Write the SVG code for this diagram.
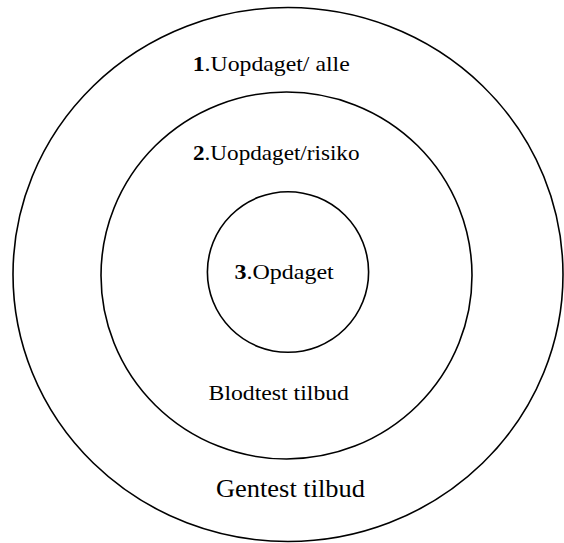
<svg xmlns="http://www.w3.org/2000/svg" width="564" height="543" viewBox="0 0 564 543">
<style>
.ring{fill:none;stroke:#000;stroke-width:1.6}
.lbl{font-family:"Liberation Serif","Times New Roman",serif;font-size:21px;fill:#000}
.big{font-size:24.5px}
.num{font-weight:bold}
</style>
<rect width="564" height="543" fill="#fff"/>
<g id="outer">
<ellipse class="ring" cx="288" cy="274.5" rx="275" ry="267"/>
<text class="lbl" x="192.7" y="70.7" textLength="157" lengthAdjust="spacingAndGlyphs"><tspan class="num">1</tspan>.Uopdaget/ alle</text>
<text class="lbl big" x="216" y="496.7" textLength="149" lengthAdjust="spacingAndGlyphs">Gentest tilbud</text>
</g>
<g id="middle">
<ellipse class="ring" cx="286.5" cy="275.5" rx="185.5" ry="183.5"/>
<text class="lbl" x="193" y="160" textLength="166.5" lengthAdjust="spacingAndGlyphs"><tspan class="num">2</tspan>.Uopdaget/risiko</text>
<text class="lbl" x="208.6" y="400" textLength="140.4" lengthAdjust="spacingAndGlyphs">Blodtest tilbud</text>
</g>
<g id="inner">
<ellipse class="ring" cx="288" cy="272" rx="80.6" ry="80.3"/>
<text class="lbl" x="234.5" y="279.3" textLength="99.3" lengthAdjust="spacingAndGlyphs"><tspan class="num">3</tspan>.Opdaget</text>
</g>
<g id="connectors"/>
</svg>
